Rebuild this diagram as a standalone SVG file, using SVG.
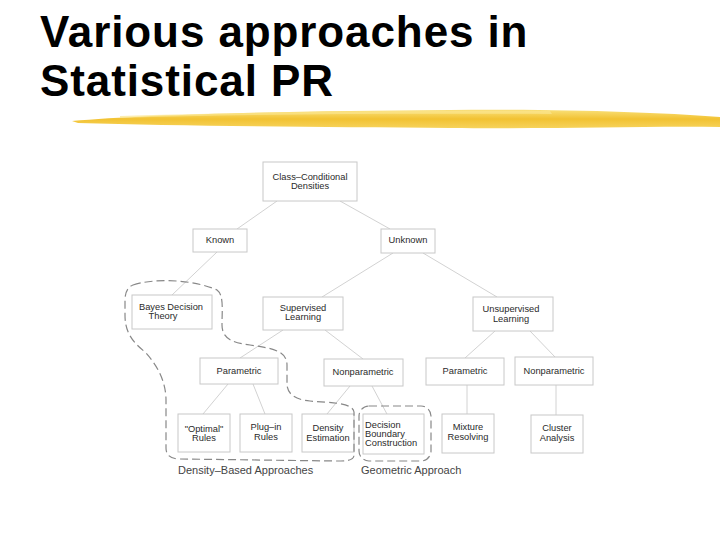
<svg xmlns="http://www.w3.org/2000/svg" width="720" height="540" viewBox="0 0 720 540">
<defs>
<linearGradient id="brush" x1="0" y1="0" x2="0" y2="1">
<stop offset="0" stop-color="#f9e07a"/>
<stop offset="0.5" stop-color="#f2c232"/>
<stop offset="1" stop-color="#f6d35c"/>
</linearGradient>
</defs>
<style>
.title{font-family:"Liberation Sans",Arial,sans-serif;font-weight:bold;font-size:44px;fill:#000;letter-spacing:0.9px}
.box{fill:#fff;stroke:#c8c8c8;stroke-width:1}
.t{font-family:"Liberation Sans",Arial,sans-serif;font-size:9.3px;fill:#2a2a2a;text-anchor:middle}
.tl{font-family:"Liberation Sans",Arial,sans-serif;font-size:9.3px;fill:#2a2a2a}
.lab{font-family:"Liberation Sans",Arial,sans-serif;font-size:11px;fill:#444}
.conn line{stroke:#d2d2d2;stroke-width:1}
.dash{fill:none;stroke:#888;stroke-width:1.2;stroke-dasharray:8 4}
</style>
<rect width="720" height="540" fill="#fff"/>
<text class="title" x="40" y="47">Various approaches in</text>
<text class="title" x="40" y="96">Statistical PR</text>
<g id="brushstroke">
<path d="M72,121 C150,114 300,111 450,110 C560,109 650,112 720,117 L720,127 C640,126 560,129 450,128 C320,127 180,126 78,123 Z" fill="url(#brush)"/>
<path d="M120,116 C250,112 400,110 550,111 L552,114 C400,113 250,114 120,118 Z" fill="#fbe58f" opacity="0.7"/>
</g>
<g id="connectors" class="conn">
<line x1="277" y1="201" x2="237" y2="229"/>
<line x1="340" y1="201" x2="390" y2="229"/>
<line x1="217" y1="252" x2="172" y2="295"/>
<line x1="393" y1="253" x2="322" y2="297"/>
<line x1="423" y1="253" x2="497" y2="297"/>
<line x1="283" y1="330" x2="240" y2="358"/>
<line x1="325" y1="330" x2="363" y2="359"/>
<line x1="495" y1="331" x2="465" y2="358"/>
<line x1="530" y1="331" x2="555" y2="357"/>
<line x1="228" y1="384" x2="203" y2="414"/>
<line x1="253" y1="384" x2="265" y2="414"/>
<line x1="350" y1="386" x2="327" y2="414"/>
<line x1="372" y1="386" x2="388" y2="416"/>
<line x1="467" y1="385" x2="467" y2="414"/>
<line x1="556" y1="385" x2="556" y2="415"/>
</g>
<g id="n-ccd"><rect class="box" x="263" y="162" width="94" height="39"/><text class="t" x="310" y="180">Class–Conditional</text><text class="t" x="310" y="189">Densities</text></g>
<g id="n-known"><rect class="box" x="193" y="229" width="54" height="23"/><text class="t" x="220" y="243">Known</text></g>
<g id="n-unknown"><rect class="box" x="381" y="229" width="54" height="24"/><text class="t" x="408" y="243">Unknown</text></g>
<g id="n-bayes"><rect class="box" x="132" y="295" width="80" height="34"/><text class="t" x="171" y="310">Bayes Decision</text><text class="t" x="163" y="319">Theory</text></g>
<g id="n-sup"><rect class="box" x="263" y="297" width="80" height="33"/><text class="t" x="303" y="311">Supervised</text><text class="t" x="303" y="320">Learning</text></g>
<g id="n-unsup"><rect class="box" x="473" y="297" width="80" height="34"/><text class="t" x="511" y="312">Unsupervised</text><text class="t" x="511" y="322">Learning</text></g>
<g id="n-param1"><rect class="box" x="200" y="358" width="78" height="26"/><text class="t" x="239" y="374">Parametric</text></g>
<g id="n-nonparam1"><rect class="box" x="324" y="359" width="79" height="27"/><text class="t" x="363" y="375">Nonparametric</text></g>
<g id="n-param2"><rect class="box" x="426" y="358" width="78" height="27"/><text class="t" x="465" y="374">Parametric</text></g>
<g id="n-nonparam2"><rect class="box" x="515" y="357" width="78" height="28"/><text class="t" x="554" y="374">Nonparametric</text></g>
<g id="n-optimal"><rect class="box" x="178" y="414" width="52" height="38"/><text class="t" x="204" y="432">"Optimal"</text><text class="t" x="204" y="441">Rules</text></g>
<g id="n-plugin"><rect class="box" x="240" y="414" width="52" height="38"/><text class="t" x="266" y="430">Plug–in</text><text class="t" x="266" y="440">Rules</text></g>
<g id="n-density"><rect class="box" x="302" y="414" width="52" height="38"/><text class="t" x="328" y="431">Density</text><text class="t" x="328" y="441">Estimation</text></g>
<g id="n-decision"><rect class="box" x="363" y="414" width="61" height="40"/><text class="tl" x="365" y="428">Decision</text><text class="tl" x="365" y="437">Boundary</text><text class="tl" x="365" y="446">Construction</text></g>
<g id="n-mixture"><rect class="box" x="442" y="414" width="52" height="39"/><text class="t" x="468" y="430">Mixture</text><text class="t" x="468" y="440">Resolving</text></g>
<g id="n-cluster"><rect class="box" x="531" y="415" width="52" height="38"/><text class="t" x="557" y="431">Cluster</text><text class="t" x="557" y="441">Analysis</text></g>
<g id="g-density-based">
<path class="dash" d="M133,285 C150,279 190,278 217,290 C224,295 222,310 222,325 C222,340 235,343 250,345 C270,348 287,350 287,365 L287,385 C288,397 300,400 310,401 C330,403 352,402 354,412 L354,455 C354,461 345,461 335,461 L180,459 C170,459 166,455 166,448 L166,400 C166,385 160,368 145,352 C130,340 125,330 125,315 L125,300 C125,292 128,287 133,285 Z"/>
<text class="lab" x="178" y="474">Density–Based Approaches</text>
</g>
<g id="g-geometric">
<rect class="dash" x="359" y="406" width="72" height="55" rx="10"/>
<text class="lab" x="361" y="474">Geometric Approach</text>
</g>
</svg>
